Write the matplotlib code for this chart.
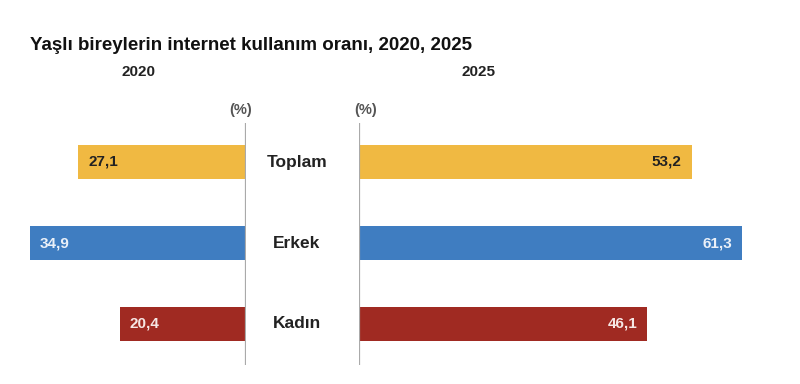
import matplotlib.pyplot as plt

plt.rcParams['font.family'] = ['Liberation Sans', 'DejaVu Sans']

categories = ["Toplam", "Erkek", "Kadın"]
values_2020 = [27.1, 34.9, 20.4]
values_2025 = [53.2, 61.3, 46.1]
labels_2020 = ["27,1", "34,9", "20,4"]
labels_2025 = ["53,2", "61,3", "46,1"]
colors = ["#F0B942", "#3F7DC1", "#A02A22"]
text_colors = ["#222222", "#EAF0F8", "#F6E6E4"]

W, H = 800, 384
fig = plt.figure(figsize=(W / 100, H / 100), dpi=100)

def px_axes(x0, y0, x1, y1):
    # pixel box (top-left origin) -> figure fraction
    return fig.add_axes([x0 / W, 1 - y1 / H, (x1 - x0) / W, (y1 - y0) / H])

top, bottom = 123, 365
ax_l = px_axes(0, top, 246, bottom)
ax_r = px_axes(359, top, W, bottom)

y = list(range(len(categories)))
ylim = ((bottom - 162) / 81, (top - 162) / 81)

ax_l.barh(y, values_2020, height=0.41, color=colors)
ax_l.set_xlim(246 / 6.19, 0)
ax_r.barh(y, values_2025, height=0.41, color=colors)
ax_r.set_xlim(0, (W - 359) / 6.25)

for ax in (ax_l, ax_r):
    ax.set_ylim(*ylim)
    ax.axis('off')
    ax.axvline(0, color="#aaaaaa", lw=1.6)

for i in y:
    ax_l.text(values_2020[i] - 1.6, i, labels_2020[i], ha='left', va='center',
              fontsize=11, fontweight='bold', color=text_colors[i])
    ax_r.text(values_2025[i] - 1.6, i, labels_2025[i], ha='right', va='center',
              fontsize=11, fontweight='bold', color=text_colors[i])
    fig.text(297 / W, 1 - (162 + 81 * i) / H, categories[i], ha='center', va='center',
             fontsize=12.5, fontweight='bold', color="#222222")

fig.text(30 / W, 1 - 45 / H, "Yaşlı bireylerin internet kullanım oranı, 2020, 2025",
         ha='left', va='center', fontsize=13.5, fontweight='bold', color="#111111")
fig.text(139 / W, 1 - 72 / H, "2020", ha='center', va='center',
         fontsize=11, fontweight='bold', color="#222222")
fig.text(479 / W, 1 - 72 / H, "2025", ha='center', va='center',
         fontsize=11, fontweight='bold', color="#222222")
fig.text(240.5 / W, 1 - 110 / H, "(%)", ha='center', va='center',
         fontsize=10.5, fontweight='bold', color="#555555")
fig.text(366 / W, 1 - 110 / H, "(%)", ha='center', va='center',
         fontsize=10.5, fontweight='bold', color="#555555")

fig.savefig("out.png", dpi=100)
